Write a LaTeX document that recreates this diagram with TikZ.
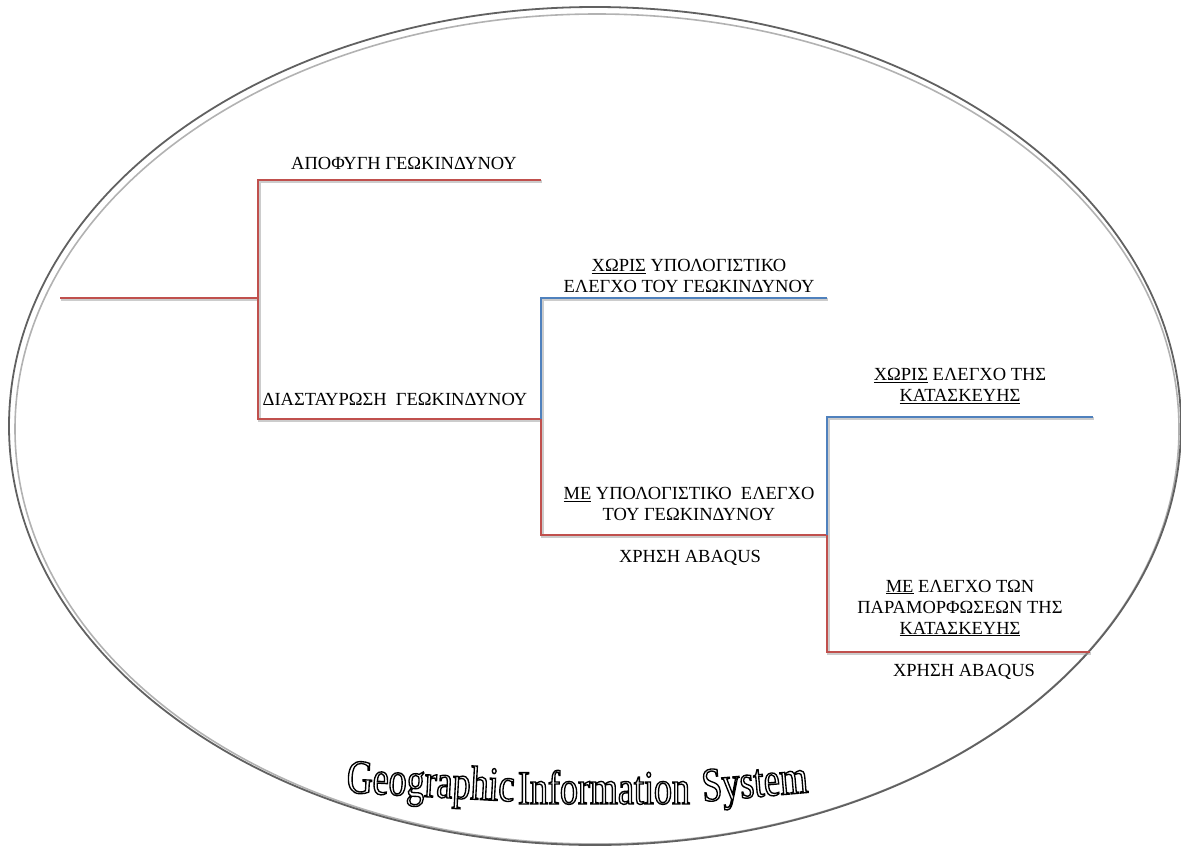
\documentclass[tikz,border=0pt]{standalone}
\usepackage{fontspec}
\setmainfont{Liberation Serif}
\newfontfamily\titlefont[FakeStretch=0.75]{Liberation Serif}
\definecolor{bred}{HTML}{C0504D}
\definecolor{bblue}{HTML}{4F81BD}
\newcommand\outl[1]{\special{pdf:code q 1 Tr 1.35 w}#1\special{pdf:code Q}}
\tikzset{
  branch/.style={line width=2.6pt, line join=miter,
    preaction={draw=black!40, line width=2.6pt, opacity=0.5,
      transform canvas={xshift=1.2pt,yshift=-1.6pt}}},
  redbranch/.style={branch, draw=bred},
  bluebranch/.style={branch, draw=bblue},
  lbl/.style={font=\fontsize{18.5}{21}\selectfont, align=center, inner sep=0pt, text=black},
  titleword/.style={font=\titlefont\fontsize{48}{48}\selectfont, anchor=base, inner sep=0pt},
}
\begin{document}
\begin{tikzpicture}[x=1pt,y=-1pt]
\useasboundingbox (0,0) rectangle (1181,849);
% outer ellipse
\draw[black!30, line width=1.6pt] (597,429) ellipse [x radius=582, y radius=415];
\draw[black!62, line width=1.8pt] (595,426) ellipse [x radius=586, y radius=419];

% junction coordinates
\coordinate (s) at (60,298);
\coordinate (j1) at (258,298);
\coordinate (j1t) at (258,180);
\coordinate (e1) at (541,180);
\coordinate (j1b) at (258,419);
\coordinate (j2) at (541,419);
\coordinate (j2t) at (541,298);
\coordinate (e2) at (827,298);
\coordinate (j2b) at (541,535);
\coordinate (j3) at (827,535);
\coordinate (j3t) at (827,417);
\coordinate (e3) at (1093,417);
\coordinate (j3b) at (827,652);
\coordinate (e4) at (1090,652);

\draw[redbranch] (s) -- (j1);
\draw[redbranch] (e1) -- (j1t) -- (j1b) -- (j2);
\draw[bluebranch] (j2) -- (j2t) -- (e2);
\draw[redbranch] (j2) -- (j2b) -- (j3);
\draw[bluebranch] (j3) -- (j3t) -- (e3);
\draw[redbranch] (j3) -- (j3b) -- (e4);

% labels
\node[lbl] (n1) at (404,163) {ΑΠΟΦΥΓΗ ΓΕΩΚΙΝΔΥΝΟΥ};
\node[lbl] (n2) at (689,276) {\underline{ΧΩΡΙΣ} ΥΠΟΛΟΓΙΣΤΙΚΟ\\ΕΛΕΓΧΟ ΤΟΥ ΓΕΩΚΙΝΔΥΝΟΥ};
\node[lbl] (n3) at (395,399) {ΔΙΑΣΤΑΥΡΩΣΗ\ \ ΓΕΩΚΙΝΔΥΝΟΥ};
\node[lbl] (n4) at (689,504) {\underline{ΜΕ} ΥΠΟΛΟΓΙΣΤΙΚΟ\ \ ΕΛΕΓΧΟ\\ΤΟΥ ΓΕΩΚΙΝΔΥΝΟΥ};
\node[lbl] (n5) at (690,558) {ΧΡΗΣΗ ABAQUS};
\node[lbl] (n6) at (960,386) {\underline{ΧΩΡΙΣ} ΕΛΕΓΧΟ ΤΗΣ\\\underline{ΚΑΤΑΣΚΕΥΗΣ}};
\node[lbl] (n7) at (960,608) {\underline{ΜΕ} ΕΛΕΓΧΟ ΤΩΝ\\ΠΑΡΑΜΟΡΦΩΣΕΩΝ ΤΗΣ\\\underline{ΚΑΤΑΣΚΕΥΗΣ}};
\node[lbl] (n8) at (964,672) {ΧΡΗΣΗ ABAQUS};

% title words
\node[titleword, rotate=-3] (t1) at (430,797) {\outl{Geographic}};
\node[titleword] (t2) at (604,804) {\outl{Information}};
\node[titleword, rotate=5] (t3) at (756,797) {\outl{System}};
\end{tikzpicture}
\end{document}
